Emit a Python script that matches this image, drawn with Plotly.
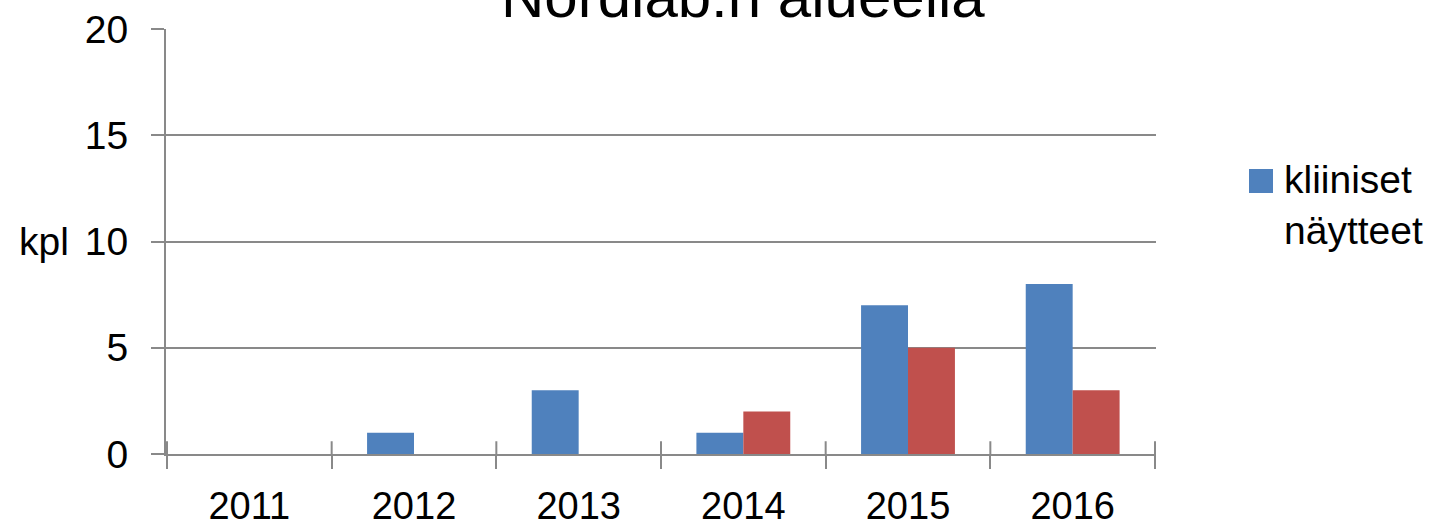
import plotly.graph_objects as go

# Sample counts per year (kpl)
years = ["2011", "2012", "2013", "2014", "2015", "2016"]
clinical = [0, 1, 3, 1, 7, 8]
environmental = [0, 0, 0, 2, 5, 3]
y_ticks = [0, 5, 10, 15, 20]

FONT = "Liberation Sans, Arial, sans-serif"
GRID = "#898989"

fig = go.Figure()
fig.add_trace(go.Bar(x=years, y=clinical, name="kliiniset näytteet",
                     marker=dict(color="#4F81BD", line=dict(width=0)),
                     showlegend=False))
fig.add_trace(go.Bar(x=years, y=environmental, name="ympäristönäytteet",
                     marker=dict(color="#C0504D", line=dict(width=0)),
                     showlegend=False))

fig.update_layout(
    width=1438, height=528,
    margin=dict(l=166, r=282, t=29, b=74, autoexpand=False),
    paper_bgcolor="white", plot_bgcolor="white",
    barmode="group", bargap=0.43, bargroupgap=0,
    showlegend=False,
    font=dict(family=FONT, size=38, color="#000000"),
    xaxis=dict(
        type="category", tickson="boundaries", automargin=False,
        showline=True, linecolor=GRID, linewidth=2,
        ticks="outside", ticklen=13, tickwidth=2, tickcolor=GRID,
        showgrid=False, ticklabelstandoff=17,
        tickfont=dict(family=FONT, size=38, color="#000000"),
    ),
    yaxis=dict(
        range=[0, 20], tickvals=y_ticks, automargin=False,
        showline=True, linecolor=GRID, linewidth=2,
        ticks="outside", ticklen=13, tickwidth=2, tickcolor=GRID,
        showgrid=True, gridcolor=GRID, gridwidth=2,
        zeroline=False, ticklabelstandoff=15,
        tickfont=dict(family=FONT, size=39, color="#000000"),
    ),
)

# Inner half of the crossing category ticks
for i in range(len(years) + 1):
    fig.add_shape(type="line", xref="x", yref="y",
                  x0=i - 0.5, x1=i - 0.5, y0=0, y1=0.6,
                  line=dict(color=GRID, width=2))

# Axis unit label
fig.add_annotation(text="kpl", xref="paper", yref="y", x=0, y=10,
                   xanchor="right", yanchor="middle", xshift=-95,
                   showarrow=False, font=dict(family=FONT, size=39))

# Chart title
fig.add_annotation(text="Nordlab:n alueella", xref="paper", yref="paper",
                   x=(743 - 166) / 990, y=1, xanchor="center", yanchor="bottom",
                   yshift=-3, showarrow=False,
                   font=dict(family=FONT, size=60))

# Legend key
fig.add_shape(type="rect", xref="paper", yref="paper",
              x0=(1249 - 166) / 990, x1=(1273 - 166) / 990,
              y0=(454 - 193) / 425, y1=(454 - 169) / 425,
              fillcolor="#4F81BD", line=dict(width=0))
fig.add_annotation(text="kliiniset<br>näytteet", xref="paper", yref="paper",
                   x=(1282 - 166) / 990, y=(454 - 156) / 425,
                   xanchor="left", yanchor="top", align="left",
                   showarrow=False, font=dict(family=FONT, size=39))

fig.write_html("out.html")
